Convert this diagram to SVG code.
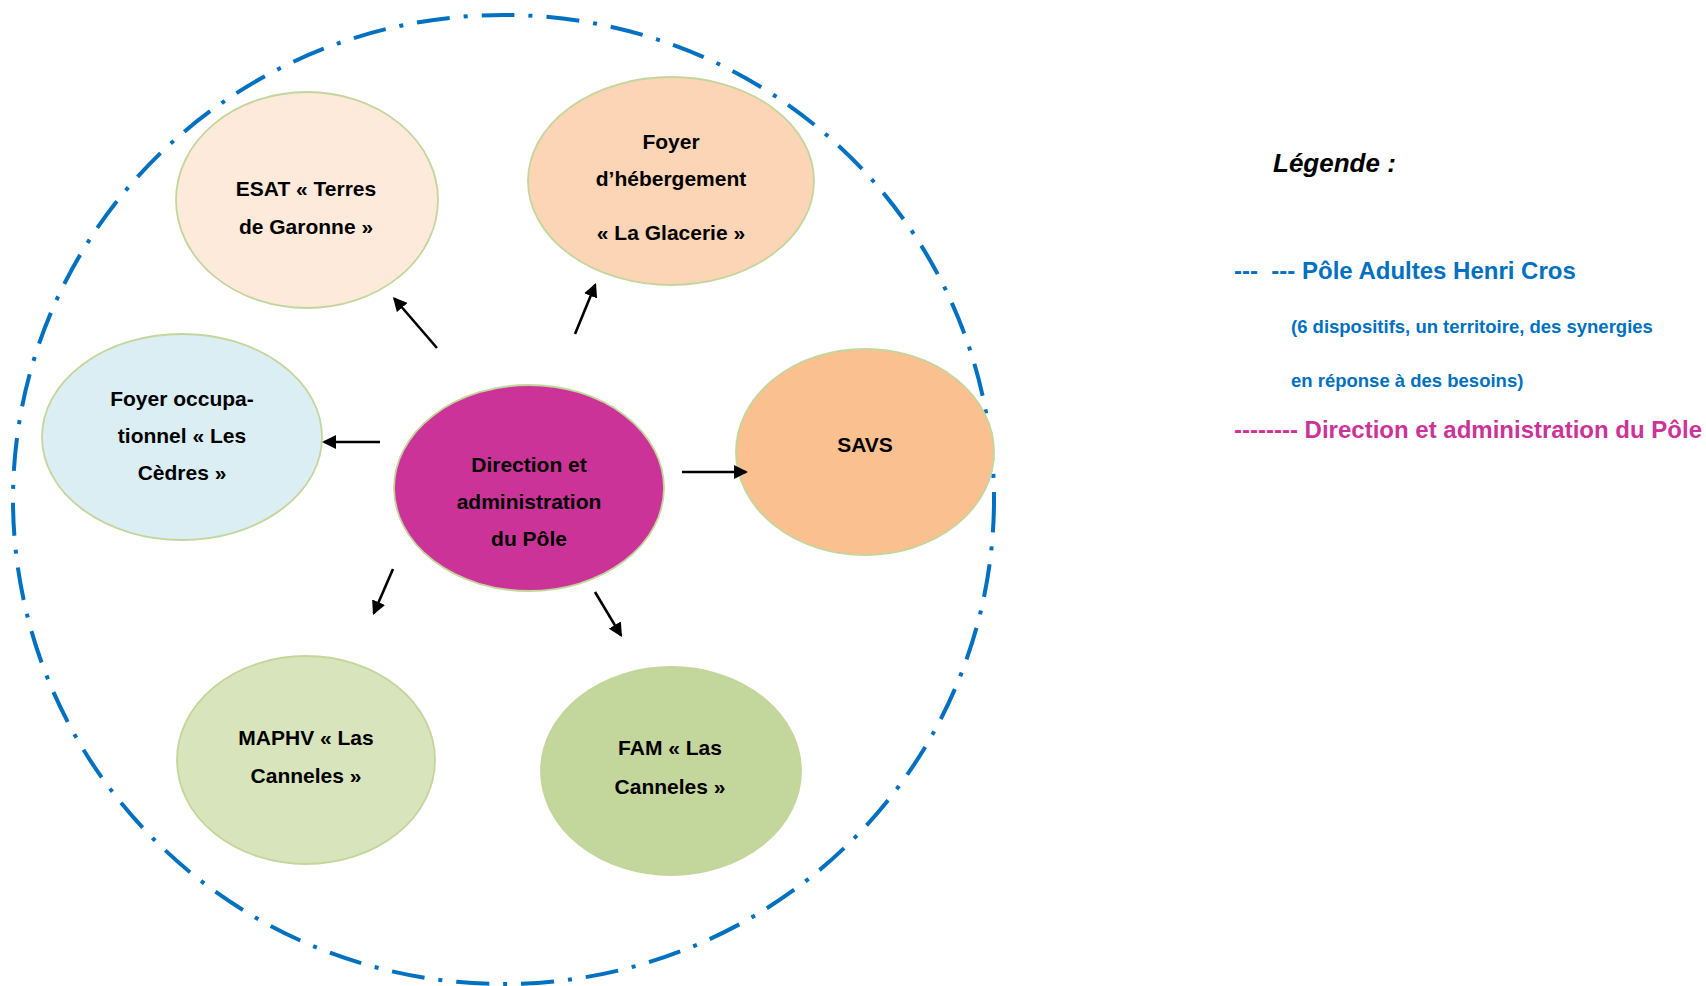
<svg xmlns="http://www.w3.org/2000/svg" width="1706" height="986" viewBox="0 0 1706 986">
<defs>
<style>
.node { stroke: #C3D69B; stroke-width: 1.8; }
.lbl { font-family: "Liberation Sans", Arial, sans-serif; font-weight: bold; font-size: 21px; fill: #000; text-anchor: middle; }
.conn { stroke: #000; stroke-width: 2.6; fill: none; marker-end: url(#arr); }
.leg { font-family: "Liberation Sans", Arial, sans-serif; font-weight: bold; white-space: pre; }
</style>
<marker id="arr" markerUnits="userSpaceOnUse" markerWidth="16" markerHeight="14" refX="12" refY="7" orient="auto">
<path d="M0,0 L14,7 L0,14 z" fill="#000"/>
</marker>
</defs>
<rect width="1706" height="986" fill="#fff"/>
<g id="pole-boundary">
<ellipse cx="503.5" cy="499.5" rx="490.5" ry="484.5" fill="none" stroke="#0070C0" stroke-width="4" stroke-dasharray="33 14 4 14"/>
</g>
<g id="esat">
<ellipse class="node" cx="307" cy="200" rx="131" ry="108" fill="#FDEADA"/>
<text class="lbl" x="306" y="196">ESAT « Terres</text>
<text class="lbl" x="306" y="234">de Garonne »</text>
</g>
<g id="foyer-hebergement">
<ellipse class="node" cx="671" cy="181" rx="143" ry="104" fill="#FBD5B5"/>
<text class="lbl" x="671" y="149">Foyer</text>
<text class="lbl" x="671" y="186">d’hébergement</text>
<text class="lbl" x="671" y="240">« La Glacerie »</text>
</g>
<g id="foyer-occupationnel">
<ellipse class="node" cx="182" cy="437" rx="140" ry="103" fill="#DBEEF3"/>
<text class="lbl" x="182" y="406">Foyer occupa-</text>
<text class="lbl" x="182" y="443">tionnel « Les</text>
<text class="lbl" x="182" y="480">Cèdres »</text>
</g>
<g id="direction">
<ellipse class="node" cx="529" cy="488" rx="135" ry="103" fill="#CC3399"/>
<text class="lbl" x="529" y="472">Direction et</text>
<text class="lbl" x="529" y="509">administration</text>
<text class="lbl" x="529" y="546">du Pôle</text>
</g>
<g id="savs">
<ellipse class="node" cx="865" cy="452" rx="129" ry="103" fill="#FAC090"/>
<text class="lbl" x="865" y="452">SAVS</text>
</g>
<g id="maphv">
<ellipse class="node" cx="306" cy="760" rx="129" ry="104" fill="#D7E4BC"/>
<text class="lbl" x="306" y="745">MAPHV « Las</text>
<text class="lbl" x="306" y="783">Canneles »</text>
</g>
<g id="fam">
<ellipse class="node" cx="671" cy="771" rx="130" ry="104" fill="#C3D69B"/>
<text class="lbl" x="670" y="755">FAM « Las</text>
<text class="lbl" x="670" y="794">Canneles »</text>
</g>
<g id="connectors">
<line class="conn" x1="437" y1="348" x2="394.3" y2="298.5"/>
<line class="conn" x1="575" y1="334" x2="595.2" y2="284.8"/>
<line class="conn" x1="380" y1="442" x2="324" y2="442"/>
<line class="conn" x1="682" y1="472" x2="746" y2="472"/>
<line class="conn" x1="393" y1="569" x2="373.8" y2="613.2"/>
<line class="conn" x1="595" y1="592" x2="621" y2="635.3"/>
</g>
<g id="legend">
<text class="leg" x="1273" y="172" font-size="26" font-style="italic" fill="#000">Légende :</text>
<text class="leg" x="1234" y="279" font-size="24" fill="#0070C0">---  --- Pôle Adultes Henri Cros</text>
<text class="leg" x="1291" y="333" font-size="18.5" fill="#0070C0">(6 dispositifs, un territoire, des synergies</text>
<text class="leg" x="1291" y="387" font-size="18.5" fill="#0070C0">en réponse à des besoins)</text>
<text class="leg" x="1234" y="438" font-size="24" fill="#CC3399">-------- Direction et administration du Pôle</text>
</g>
</svg>
